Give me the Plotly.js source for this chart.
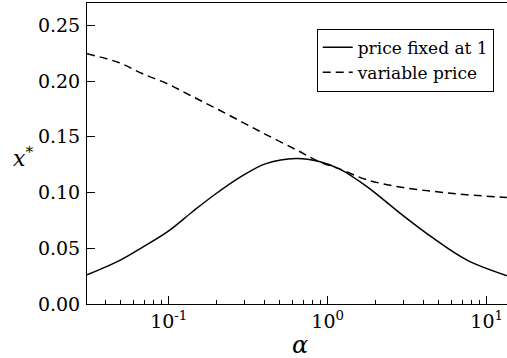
<!DOCTYPE html>
<html>
<head>
<meta charset="utf-8">
<script src="https://cdn.plot.ly/plotly-3.0.1.min.js"></script>
<style>
  html, body { margin: 0; padding: 0; background: #fff; }
  #chart { width: 507px; height: 358px; }
</style>
</head>
<body>
<div id="chart"></div>
<script>
// alpha values (log axis) and the two curves
let alpha = [0.0306, 0.0489, 0.0686, 0.1, 0.1416, 0.198, 0.2917, 0.409, 0.631, 0.885, 1.194, 1.757, 2.85, 4.62, 7.48, 13.4];
let priceFixed = [0.0261, 0.0389, 0.0510, 0.0656, 0.0830, 0.0989, 0.1151, 0.1259, 0.1306, 0.1279, 0.121, 0.1055, 0.0815, 0.059, 0.0396, 0.0254];
let priceVariable = [0.2245, 0.2164, 0.2065, 0.197, 0.186, 0.1755, 0.163, 0.152, 0.1385, 0.1276, 0.121, 0.1115, 0.1049, 0.101, 0.098, 0.0956];

let xMajorVals = [0.1, 1, 10];
let xMajorText = ['10<sup>-1</sup>', '10<sup>0</sup>', '10<sup>1</sup>'];
let xMinorVals = [0.04, 0.05, 0.06, 0.07, 0.08, 0.09, 0.2, 0.3, 0.4, 0.5, 0.6, 0.7, 0.8, 0.9, 2, 3, 4, 5, 6, 7, 8, 9];
let yTickVals = [0, 0.05, 0.1, 0.15, 0.2, 0.25];

// Liberation Serif comes out sans here, DejaVu Serif works
const serif = 'DejaVu Serif';

let trace1 = {
    x: alpha,
    y: priceFixed,
    mode: 'lines',
    name: 'price fixed at 1',
    line: {color: 'black', width: 1.5, shape: 'spline', smoothing: 1}
};

let trace2 = {
    x: alpha,
    y: priceVariable,
    mode: 'lines',
    name: 'variable price',
    line: {color: 'black', width: 1.5, dash: '8px,5px', shape: 'spline', smoothing: 1}
};

let layout = {
    width: 507,
    height: 358,
    margin: {l: 87, r: 0, t: 3, b: 54},
    paper_bgcolor: 'white',
    plot_bgcolor: 'white',
    font: {family: serif, color: 'black', size: 19},
    showlegend: true,
    legend: {
        x: 0.547, y: 0.915, xanchor: 'left', yanchor: 'top',
        bordercolor: 'black', borderwidth: 1, bgcolor: 'white',
        font: {family: serif, size: 17, color: 'black'}
    },
    xaxis: {
        type: 'log',
        range: [-1.514, 1.128],
        showgrid: false, zeroline: false,
        showline: true, linecolor: 'black', linewidth: 1, mirror: true,
        tickmode: 'array', tickvals: xMajorVals, ticktext: xMajorText,
        ticks: 'inside', ticklen: 8, tickcolor: 'black', tickwidth: 1,
        minor: {tickmode: 'array', tickvals: xMinorVals, ticks: 'inside', ticklen: 4, tickcolor: 'black', tickwidth: 1, showgrid: false},
        tickfont: {family: serif, size: 19, color: 'black'}
    },
    yaxis: {
        range: [0, 0.27],
        showgrid: false, zeroline: false,
        showline: true, linecolor: 'black', linewidth: 1,
        tickmode: 'array', tickvals: yTickVals, tickformat: '.2f',
        ticks: 'inside', ticklen: 8, tickcolor: 'black', tickwidth: 1,
        ticklabelstandoff: 2,
        tickfont: {family: serif, size: 19, color: 'black'}
    },
    annotations: [
        {
            text: '<i>x</i><sup>*</sup>', xref: 'paper', yref: 'paper',
            x: -0.152, y: 0.488, xanchor: 'center', yanchor: 'middle', showarrow: false,
            font: {family: serif, size: 22, color: 'black'}
        },
        {
            text: '<i>α</i>', xref: 'paper', yref: 'paper',
            x: 0.507, y: -0.136, xanchor: 'center', yanchor: 'middle', showarrow: false,
            font: {family: serif, size: 24, color: 'black'}
        }
    ]
};

Plotly.newPlot('chart', [trace1, trace2], layout, {displayModeBar: false, staticPlot: true});
</script>
</body>
</html>
